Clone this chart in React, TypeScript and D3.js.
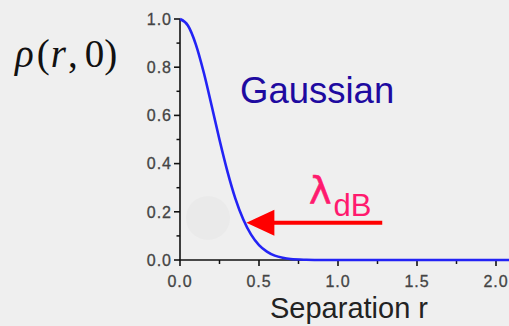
import React from "react";
import * as d3 from "d3";

// Normalized correlation ρ(r,0) versus separation r
const separation = [0, 0.05, 0.1, 0.15, 0.2, 0.25, 0.3, 0.35, 0.4, 0.45, 0.5, 0.55, 0.6, 0.65, 0.7, 0.8, 0.9, 1.0, 1.5, 2.0, 2.2];
const rho = [1.0, 0.973, 0.895, 0.779, 0.641, 0.499, 0.368, 0.256, 0.169, 0.105, 0.062, 0.035, 0.018, 0.009, 0.004, 0.001, 0, 0, 0, 0, 0];

const xMajorTicks = [0, 0.5, 1.0, 1.5, 2.0];
const xMinorTicks = [0.25, 0.75, 1.25, 1.75];
const yMajorTicks = [0, 0.2, 0.4, 0.6, 0.8, 1.0];
const yMinorTicks = [0.1, 0.3, 0.5, 0.7, 0.9];

// Arrow pointing at the correlation length on the curve
const arrowTail = { r: 1.28, v: 0.155 };
const arrowTip = { r: 0.42, v: 0.155 };

const W = 509;
const H = 326;

export default function App() {
  const x = d3.scaleLinear().domain([0, 2.0]).range([180, 496]);
  const y = d3.scaleLinear().domain([0, 1]).range([260, 19]);

  const line = d3
    .line<number>()
    .x((_, i) => x(separation[i]))
    .y((d) => y(d))
    .curve(d3.curveMonotoneX);

  const tipX = x(arrowTip.r);
  const tipY = y(arrowTip.v);
  const tailX = x(arrowTail.r);
  const headLen = 28;
  const headHalf = 13;

  const sans = "'Liberation Sans', Arial, sans-serif";

  return (
    <div style={{ position: "fixed", left: 0, top: 0, width: W, height: H }}>
      <svg width={W} height={H} style={{ display: "block" }}>
        <rect x={0} y={0} width={W} height={H} fill="#efefef" />
        {/* faint background decoration */}
        <circle cx={208} cy={218} r={22} fill="#eaeaea" />

        {/* y axis */}
        <line x1={x(0)} x2={x(0)} y1={y(0)} y2={y(1)} stroke="#111" strokeWidth={1.6} />
        {yMajorTicks.map((t) => (
          <g key={`ym${t}`}>
            <line x1={x(0) - 6} x2={x(0)} y1={y(t)} y2={y(t)} stroke="#111" strokeWidth={1.6} />
            <text
              x={x(0) - 8}
              y={y(t)}
              dy="0.36em"
              textAnchor="end"
              fontFamily={sans}
              fontSize={16}
              letterSpacing={1}
              fill="#444"
              stroke="#444"
              strokeWidth={0.3}
            >
              {t.toFixed(1)}
            </text>
          </g>
        ))}
        {yMinorTicks.map((t) => (
          <line key={`yn${t}`} x1={x(0) - 3.5} x2={x(0)} y1={y(t)} y2={y(t)} stroke="#111" strokeWidth={1.5} />
        ))}

        {/* x axis */}
        <line x1={x(0) - 1} x2={W} y1={y(0)} y2={y(0)} stroke="#111" strokeWidth={1.6} />
        {xMajorTicks.map((t) => (
          <g key={`xm${t}`}>
            <line x1={x(t)} x2={x(t)} y1={y(0)} y2={y(0) + 6} stroke="#111" strokeWidth={1.6} />
            <text
              x={x(t)}
              y={y(0) + 27}
              textAnchor="middle"
              fontFamily={sans}
              fontSize={16}
              letterSpacing={1}
              fill="#444"
              stroke="#444"
              strokeWidth={0.3}
            >
              {t.toFixed(1)}
            </text>
          </g>
        ))}
        {xMinorTicks.map((t) => (
          <line key={`xn${t}`} x1={x(t)} x2={x(t)} y1={y(0)} y2={y(0) + 4} stroke="#111" strokeWidth={1.5} />
        ))}

        {/* curve */}
        <path d={line(rho) ?? ""} fill="none" stroke="#2323f5" strokeWidth={2.6} />

        {/* arrow */}
        <line x1={tailX} x2={tipX + headLen - 2} y1={tipY} y2={tipY} stroke="#ff0000" strokeWidth={4} />
        <path
          d={`M${tipX},${tipY} L${tipX + headLen},${tipY - headHalf} L${tipX + headLen},${tipY + headHalf} Z`}
          fill="#ff0000"
        />

        {/* labels */}
        <text x={240} y={103} fontFamily={sans} fontSize={36.5} fill="#1e0aa0">
          Gaussian
        </text>
        <text x={309} y={203} fontFamily="'DejaVu Sans', sans-serif" fontSize={38} fill="#ff1a6e" stroke="#ff1a6e" strokeWidth={0.6}>
          λ
          <tspan fontFamily={sans} fontSize={31} dx={2} dy={13} strokeWidth={0}>
            dB
          </tspan>
        </text>
        <text x={270} y={318} fontFamily={sans} fontSize={29} fill="#222">
          Separation r
        </text>
        <text x={15} y={67} fontFamily="'Liberation Serif', 'Times New Roman', serif" fontSize={39} fill="#111">
          <tspan fontStyle="italic">ρ</tspan>
          <tspan dx={3}>(</tspan>
          <tspan fontStyle="italic" dx={1}>r</tspan>
          <tspan dx={2}>,</tspan>
          <tspan dx={7}>0)</tspan>
        </text>
      </svg>
    </div>
  );
}
